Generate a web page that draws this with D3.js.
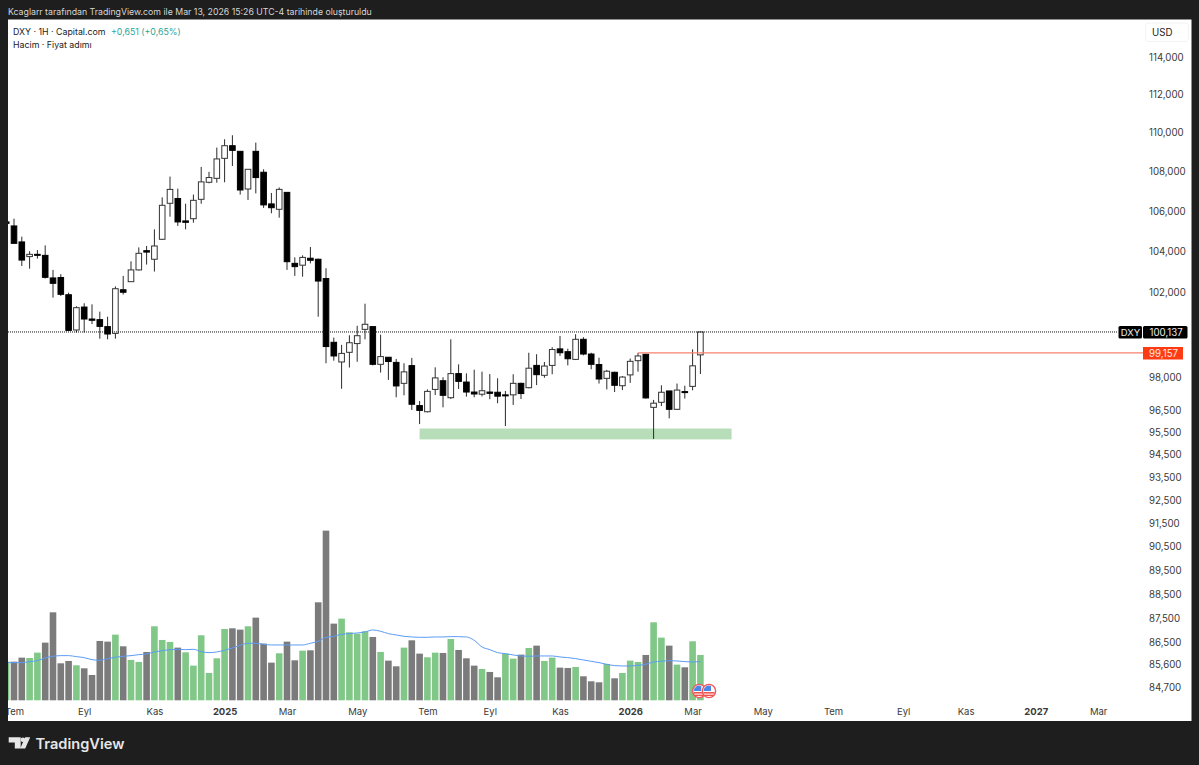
<!DOCTYPE html>
<html>
<head>
<meta charset="utf-8">
<script src="https://cdn.jsdelivr.net/npm/d3@7"></script>
<style>
  html, body { margin: 0; padding: 0; background: #1e1e1e; }
  svg { display: block; font-family: Inter, "Liberation Sans", sans-serif; }
</style>
</head>
<body>
<div id="chart"></div>
<script>
// weekly DXY candles, first entry is the one cut off by the left edge
const firstIndex = -1;
const opens = [105470, 105270, 104480, 103760, 103870, 103820, 102720, 102740, 101910, 100230,
  101320, 100750, 100720, 100390, 100070, 102150, 102540, 103110, 104050, 103630,
  104610, 106400, 106640, 105520, 105630, 106600, 107460, 107660, 108680, 109330,
  109040, 107120, 109040, 107970, 106370, 106100, 106950, 103430, 103340, 103680,
  103630, 102690, 99650, 98730, 99180, 99590, 100260, 100390, 98620, 98950,
  98710, 97740, 98560, 96720, 96440, 97460, 97860, 97080, 98190, 97800,
  97340, 97240, 97340, 97330, 97210, 97210, 97740, 97540, 98570, 98110,
  98570, 99340, 99210, 98850, 99790, 99100, 98610, 97970, 98250, 97630,
  98130, 98790, 99090, 96640, 96870, 97390, 96550, 97360, 97600, 99060];
const highs = [105500, 105630, 104740, 104020, 104080, 104310, 103110, 102900, 102010, 101360,
  101500, 101450, 101100, 100860, 102310, 102820, 103530, 104210, 104280, 105100,
  106700, 107750, 107140, 106380, 106840, 108240, 107990, 109230, 109660, 109870,
  109040, 108120, 109490, 108120, 106920, 107200, 106950, 103720, 103820, 104230,
  103660, 103190, 99870, 99530, 99980, 100430, 101480, 100390, 100010, 98950,
  98870, 98670, 98920, 96930, 97460, 98480, 98020, 99790, 98620, 98200,
  98370, 98280, 98170, 97970, 97390, 98160, 97770, 99160, 99090, 98730,
  99420, 99950, 99350, 100030, 99890, 99160, 98930, 98360, 98280, 98080,
  98890, 99150, 99100, 96980, 97650, 97390, 97730, 97630, 99320, 100137];
const lows = [105350, 104410, 103300, 103170, 103660, 102690, 101770, 101850, 100200, 100110,
  100110, 100510, 99820, 99790, 99820, 101920, 102540, 103080, 103370, 103030,
  104580, 105730, 105270, 105100, 105430, 106380, 107410, 107440, 107460, 108290,
  106840, 106570, 106900, 106170, 105900, 105680, 103110, 102820, 102780, 103430,
  100860, 98670, 98790, 97490, 98470, 98740, 99790, 98570, 98240, 97900,
  97100, 97190, 96520, 95880, 96410, 97200, 96640, 97020, 97480, 97130,
  97100, 97140, 97010, 96830, 95790, 96750, 97020, 97510, 97660, 98000,
  98160, 99010, 98570, 98820, 99040, 98390, 97730, 97460, 97340, 97430,
  97760, 98280, 97040, 95210, 96700, 96140, 96520, 97040, 97420, 98170];
const closes = [105400, 104410, 103590, 103870, 103840, 102750, 102460, 101930, 100210, 101290,
  100750, 100690, 100400, 100040, 102200, 102030, 103110, 103920, 103980, 104280,
  106300, 107100, 105470, 105450, 106550, 107480, 107700, 108650, 109330, 109090,
  107070, 108120, 107700, 106320, 106180, 107100, 103510, 103270, 103720, 103580,
  102570, 99450, 99010, 99130, 99630, 99960, 100500, 98620, 98980, 98750,
  97620, 98270, 96780, 96500, 97370, 97990, 97190, 98190, 97830, 97340,
  97250, 97400, 97280, 97150, 97180, 97740, 97270, 98440, 98140, 98540,
  99310, 99160, 98880, 99790, 99100, 98620, 97940, 98300, 97650, 98030,
  98760, 99010, 97070, 96830, 97330, 96550, 97430, 97330, 98550, 100137];

const volumes = [116, 116, 128, 127, 143, 173, 264, 111, 118, 105,
  96, 76, 178, 176, 197, 162, 121, 115, 145, 222,
  181, 175, 158, 144, 104, 195, 82, 126, 214, 216,
  212, 222, 248, 170, 113, 141, 176, 120, 149, 150,
  294, 509, 230, 245, 204, 200, 207, 190, 145, 119,
  102, 158, 180, 140, 129, 143, 142, 184, 151, 126,
  104, 94, 85, 69, 140, 125, 137, 157, 164, 118,
  128, 98, 97, 100, 72, 57, 54, 109, 66, 82,
  119, 115, 136, 234, 188, 164, 107, 99, 177, 136];
const volumeUp = [1, 0, 0, 1, 1, 0, 0, 0, 0, 1,
  0, 0, 0, 0, 1, 0, 1, 1, 0, 1,
  1, 1, 0, 1, 1, 1, 1, 1, 1, 0,
  0, 1, 0, 0, 0, 1, 0, 0, 1, 0,
  0, 0, 0, 1, 1, 1, 1, 0, 1, 0,
  0, 1, 0, 0, 1, 1, 0, 1, 0, 0,
  0, 1, 0, 0, 1, 1, 0, 1, 0, 1,
  1, 0, 0, 1, 0, 0, 0, 1, 0, 1,
  1, 1, 0, 1, 1, 0, 1, 0, 1, 1];
const volumeMA = [113, 113, 113, 116, 119, 127, 132, 134, 134, 131,
  128, 122, 120, 125, 129, 132, 134, 137, 139, 145,
  149, 152, 153, 152, 153, 146, 143, 145, 150, 157,
  165, 171, 171, 168, 166, 166, 166, 166, 166, 171,
  177, 189, 192, 198, 200, 202, 205, 211, 207, 200,
  196, 192, 190, 189, 189, 190, 190, 191, 191, 190,
  180, 160, 152, 143, 140, 136, 133, 132, 133, 133,
  133, 130, 128, 125, 121, 117, 113, 108, 104, 103,
  103, 105, 108, 115, 117, 119, 118, 116, 115, 116];

const yTicks = [114000, 112000, 110000, 108000, 106000, 104000, 102000, 98000, 96500, 95500,
  94500, 93500, 92500, 91500, 90500, 89500, 88500, 87500, 86500, 85600, 84700];
const xTickIndex = [0, 9, 18, 27, 35, 44, 53, 61, 70, 79, 87, 96, 105, 114, 122, 131, 139];
const xTickLabels = ["Tem", "Eyl", "Kas", "2025", "Mar", "May", "Tem", "Eyl", "Kas", "2026", "Mar", "May", "Tem", "Eyl", "Kas", "2027", "Mar"];
const yearLabels = ["2025", "2026", "2027"];

const lastPrice = 100137;
const linePrice = 99157;
const lineStartIndex = 80;
const zoneStartIndex = 52;
const zoneEndIndex = 92;
const zoneHigh = 95680;
const zoneLow = 95190;
const eventIndex = [87.85, 89.1];

const width = 1199;
const height = 765;
const paneLeft = 8;
const paneRight = 1144;
const frameRight = 1191.5;
const paneTop = 19.5;
const paneBottom = 721;
const candleWidth = 5.6;
const barWidth = 6.6;

const svg = d3.select("#chart").append("svg")
  .attr("width", width)
  .attr("height", height)
  .attr("viewBox", [0, 0, width, height]);

svg.append("rect")
  .attr("width", width)
  .attr("height", height)
  .attr("fill", "#1e1e1e");
svg.append("rect")
  .attr("x", paneLeft)
  .attr("y", paneTop)
  .attr("width", frameRight - paneLeft)
  .attr("height", paneBottom - paneTop)
  .attr("fill", "#fff");

svg.append("defs").append("clipPath")
  .attr("id", "pane")
  .append("rect")
  .attr("x", paneLeft)
  .attr("y", paneTop)
  .attr("width", paneRight - paneLeft)
  .attr("height", paneBottom - paneTop);

const x = d3.scaleLinear([0, 139], [14, 1098.2]);
const y = d3.scaleLog([114000, 84700], [57, 687]);
const yVolume = d3.scaleLinear([0, 510], [700.3, 530.3]);

const plot = svg.append("g").attr("clip-path", "url(#pane)");

// volume pane goes under the candles
plot.selectAll(".vol")
  .data(volumes)
  .join("rect")
  .attr("class", "vol")
  .attr("x", (d, i) => x(i + firstIndex) - barWidth / 2)
  .attr("y", d => yVolume(d))
  .attr("width", barWidth)
  .attr("height", d => yVolume(0) - yVolume(d))
  .attr("fill", (d, i) => volumeUp[i] ? "#80c788" : "#7b7b7b");

const maLine = d3.line()
  .x((d, i) => x(i + firstIndex))
  .y(d => yVolume(d))
  .curve(d3.curveMonotoneX);

plot.append("path")
  .attr("fill", "none")
  .attr("stroke", "#5b9cf6")
  .attr("stroke-width", 1)
  .attr("d", maLine(volumeMA));

// green support zone
plot.append("rect")
  .attr("x", x(zoneStartIndex))
  .attr("y", y(zoneHigh))
  .attr("width", x(zoneEndIndex) - x(zoneStartIndex))
  .attr("height", y(zoneLow) - y(zoneHigh))
  .attr("fill", "#b7deb9");

// last price dotted line
svg.append("line")
  .attr("x1", paneLeft)
  .attr("x2", 1118)
  .attr("y1", y(lastPrice))
  .attr("y2", y(lastPrice))
  .attr("stroke", "#111")
  .attr("stroke-width", 1)
  .attr("stroke-dasharray", "1,1");

// horizontal line at 99,157
svg.append("line")
  .attr("x1", x(lineStartIndex))
  .attr("x2", paneRight)
  .attr("y1", y(linePrice))
  .attr("y2", y(linePrice))
  .attr("stroke", "#f6806c")
  .attr("stroke-width", 1.2);

// candles
const candles = plot.selectAll(".candle")
  .data(opens)
  .join("g")
  .attr("class", "candle");

candles.append("line")
  .attr("x1", (d, i) => x(i + firstIndex))
  .attr("x2", (d, i) => x(i + firstIndex))
  .attr("y1", (d, i) => y(highs[i]))
  .attr("y2", (d, i) => y(lows[i]))
  .attr("stroke", "#2a2a2a")
  .attr("stroke-width", 1);

candles.append("rect")
  .attr("x", (d, i) => x(i + firstIndex) - candleWidth / 2)
  .attr("y", (d, i) => y(Math.max(opens[i], closes[i])))
  .attr("width", candleWidth)
  .attr("height", (d, i) => Math.max(1, y(Math.min(opens[i], closes[i])) - y(Math.max(opens[i], closes[i]))))
  .attr("fill", (d, i) => closes[i] >= opens[i] ? "#fff" : "#000")
  .attr("stroke", (d, i) => closes[i] >= opens[i] ? "#333" : "#000")
  .attr("stroke-width", 1);

// event flags near the last bar
const flags = svg.selectAll(".flag")
  .data(eventIndex)
  .join("g")
  .attr("class", "flag")
  .attr("transform", d => `translate(${x(d)},691)`);
flags.append("circle").attr("r", 6.6).attr("fill", "#fff").attr("stroke", "#f0565a").attr("stroke-width", 1.4);
flags.append("rect").attr("x", -5.5).attr("y", 1).attr("width", 11).attr("height", 1.6).attr("fill", "#ef5350");
flags.append("rect").attr("x", -4.5).attr("y", 3.6).attr("width", 9).attr("height", 1.4).attr("fill", "#ef5350");
flags.append("path").attr("d", "M-5.5,0 A5.5,5.5 0 0 1 2,-5 L2,0 Z").attr("fill", "#4a86e8");

// price axis
const yAxis = svg.append("g")
  .attr("transform", `translate(${paneRight},0)`)
  .call(d3.axisRight(y).tickValues(yTicks).tickSize(0).tickPadding(5).tickFormat(d3.format(",")))
  .call(g => g.select(".domain").remove());
yAxis.selectAll("text")
  .attr("font-size", 9.7)
  .attr("font-family", "Inter, sans-serif")
  .attr("fill", "#3a3a3a");

// time axis
const xAxis = svg.append("g")
  .attr("transform", "translate(0,706.5)")
  .call(d3.axisBottom(x).tickValues(xTickIndex).tickSize(0).tickPadding(2).tickFormat((d, i) => xTickLabels[i]))
  .call(g => g.select(".domain").remove());
xAxis.selectAll("text")
  .attr("font-size", 9.5)
  .attr("font-family", "Inter, sans-serif")
  .attr("fill", "#3a3a3a")
  .attr("font-weight", (d, i) => yearLabels.includes(xTickLabels[i]) ? 700 : 400);
svg.append("rect")
  .attr("x", 0)
  .attr("y", 700)
  .attr("width", paneLeft)
  .attr("height", 30)
  .attr("fill", "#1e1e1e");

// price labels
svg.append("rect").attr("x", 1118.5).attr("y", 326).attr("width", 23.5).attr("height", 12.5).attr("rx", 1.5).attr("fill", "#000");
svg.append("rect").attr("x", 1143).attr("y", 326).attr("width", 44.5).attr("height", 12.5).attr("rx", 1.5).attr("fill", "#000");
svg.append("rect").attr("x", 1143).attr("y", 347).attr("width", 40).attr("height", 12.5).attr("fill", "#ff3b14");
svg.append("text").attr("x", 1130.5).attr("y", 336).attr("text-anchor", "middle").attr("font-size", 9.5).attr("fill", "#eee").text("DXY");
svg.append("text").attr("x", 1149.5).attr("y", 336).attr("font-size", 9.7).attr("fill", "#eee").text(d3.format(",")(lastPrice));
svg.append("text").attr("x", 1149).attr("y", 357).attr("font-size", 9.7).attr("fill", "#ffe9e3").text(d3.format(",")(linePrice));

// currency button
svg.append("rect").attr("x", 1145.5).attr("y", 23).attr("width", 43).attr("height", 18.5).attr("rx", 3).attr("fill", "#fff").attr("stroke", "#f3f3f3");
svg.append("text").attr("x", 1152).attr("y", 35.5).attr("font-size", 9.7).attr("fill", "#222").text("USD");

// header and legend
svg.append("text").attr("x", 8).attr("y", 14.5).attr("font-size", 8.75).attr("fill", "#d6d6d6")
  .text("Kcaglarr tarafından TradingView.com ile Mar 13, 2026 15:26 UTC-4 tarihinde oluşturuldu");
const legend = svg.append("text").attr("x", 13).attr("y", 34.5).attr("font-size", 8.8).attr("fill", "#222");
legend.append("tspan").text("DXY · 1H · Capital.com");
legend.append("tspan").attr("x", 111).attr("fill", "#26a69a").text("+0,651 (+0,65%)");
svg.append("text").attr("x", 13).attr("y", 47.5).attr("font-size", 8.8).attr("fill", "#222").text("Hacim · Fiyat adımı");

// TradingView logo
const logo = svg.append("g").attr("fill", "#e6e6e6");
logo.append("path").attr("d", "M8.7,737.3H20.7V748.4H14.8V742.4H8.7Z");
logo.append("circle").attr("cx", 22.9).attr("cy", 739.7).attr("r", 2.3);
logo.append("path").attr("d", "M25.2,737.3H30.2L25.2,748.4H20.2Z");
svg.append("text").attr("x", 35.5).attr("y", 748.5).attr("font-size", 14.6).attr("font-weight", 600).attr("fill", "#e6e6e6").text("TradingView");
</script>
</body>
</html>
